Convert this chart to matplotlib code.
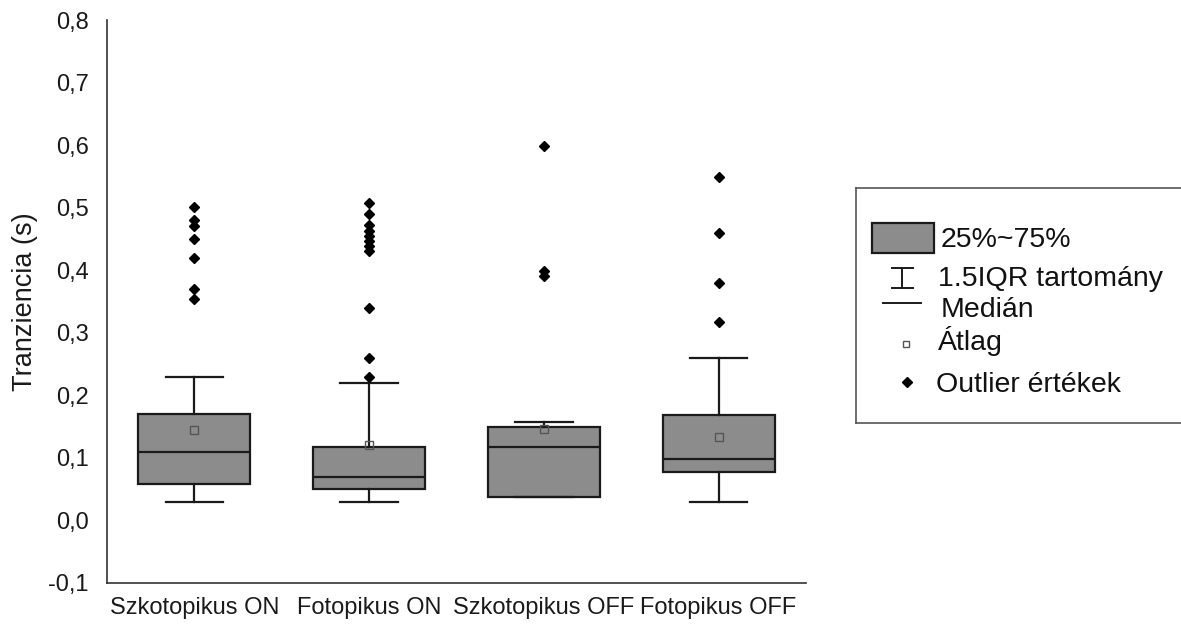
import numpy as np
import matplotlib
matplotlib.use("Agg")
import matplotlib.pyplot as plt
from matplotlib.patches import Rectangle

plt.rcParams['font.family'] = ['Liberation Sans', 'DejaVu Sans']

# values
categories = ['Szkotopikus ON', 'Fotopikus ON', 'Szkotopikus OFF', 'Fotopikus OFF']
q1 = [0.058, 0.050, 0.038, 0.078]
medians = [0.109, 0.069, 0.118, 0.098]
q3 = [0.170, 0.118, 0.149, 0.168]
whis_lo = [0.029, 0.029, 0.038, 0.029]
whis_hi = [0.229, 0.219, 0.158, 0.259]
means = [0.144, 0.120, 0.146, 0.134]
outliers = [
    [0.501, 0.481, 0.470, 0.450, 0.419, 0.370, 0.354],
    [0.508, 0.490, 0.472, 0.463, 0.455, 0.447, 0.438, 0.430, 0.340, 0.259, 0.229],
    [0.598, 0.398, 0.390],
    [0.549, 0.459, 0.379, 0.318],
]
yticks = [-0.1, 0.0, 0.1, 0.2, 0.3, 0.4, 0.5, 0.6, 0.7, 0.8]

box_gray = '#8c8c8c'
edge = '#1a1a1a'

fig = plt.figure(figsize=(11.81, 6.30), dpi=100)
ax = fig.add_axes([107 / 1181, 1 - 583 / 630, 699 / 1181, 563 / 630])

stats = []
for i in range(len(categories)):
    stats.append({'label': categories[i], 'q1': q1[i], 'med': medians[i], 'q3': q3[i],
                  'whislo': whis_lo[i], 'whishi': whis_hi[i], 'mean': means[i],
                  'fliers': outliers[i]})

ax.bxp(stats, positions=range(len(categories)), widths=0.64, patch_artist=True,
       showmeans=True, showfliers=True,
       boxprops=dict(facecolor=box_gray, edgecolor=edge, linewidth=1.6),
       whiskerprops=dict(color=edge, linewidth=1.6),
       capprops=dict(color=edge, linewidth=1.6),
       capwidths=0.33,
       medianprops=dict(color=edge, linewidth=1.6),
       meanprops=dict(marker='s', markersize=6, markerfacecolor='none',
                      markeredgecolor='#555555', markeredgewidth=1.0),
       flierprops=dict(marker='D', markersize=5.5, markerfacecolor='black',
                       markeredgecolor='black'))

ax.set_xlim(-0.5, 3.5)
ax.set_ylim(-0.1, 0.8)
ax.set_yticks(yticks)
ax.set_yticklabels([f"{np.round(v, 1):.1f}".replace('.', ',') for v in yticks])
ax.set_xticks(range(len(categories)))
ax.set_xticklabels(categories)
ax.tick_params(axis='both', length=0, labelsize=17, colors='#1a1a1a')
ax.tick_params(axis='y', pad=13)
ax.tick_params(axis='x', pad=10)
for s in ['top', 'right']:
    ax.spines[s].set_visible(False)
for s in ['left', 'bottom']:
    ax.spines[s].set_color('#333333')
    ax.spines[s].set_linewidth(1.2)
ax.set_ylabel('Tranziencia (s)', fontsize=19.5, color='#1a1a1a')
ax.yaxis.set_label_coords(-0.098, 0.5)

# legend drawn in its own box, pixel-like coordinates
lax = fig.add_axes([856 / 1181, 1 - 423 / 630, 340 / 1181, 235 / 630])
lax.set_xlim(856, 1196)
lax.set_ylim(423, 188)
lax.set_xticks([])
lax.set_yticks([])
for s in ['left', 'top', 'bottom']:
    lax.spines[s].set_color('#555555')
    lax.spines[s].set_linewidth(1.2)
lax.spines['right'].set_visible(False)

lax.add_patch(Rectangle((872, 223), 62, 30, facecolor=box_gray, edgecolor=edge, linewidth=1.6))
lax.plot([902, 902], [268, 288], color=edge, lw=1.4)
lax.plot([892, 913], [268, 268], color=edge, lw=1.4)
lax.plot([892, 913], [288, 288], color=edge, lw=1.4)
lax.plot([883, 921], [303, 303], color=edge, lw=1.4)
lax.plot([906], [344], marker='s', markersize=5, markerfacecolor='none',
         markeredgecolor='#555555', markeredgewidth=1.0)
lax.plot([907], [382], marker='D', markersize=5, color='black')

leg_texts = ['25%~75%', '1.5IQR tartomány', 'Medián', 'Átlag', 'Outlier értékek']
leg_x = [941, 938, 941, 938, 936]
leg_y = [247, 286, 317, 350, 392]
for t, x, y in zip(leg_texts, leg_x, leg_y):
    lax.text(x, y, t, fontsize=20.5, va='baseline', ha='left', color='#111111')

fig.savefig('out.png', dpi=100)
